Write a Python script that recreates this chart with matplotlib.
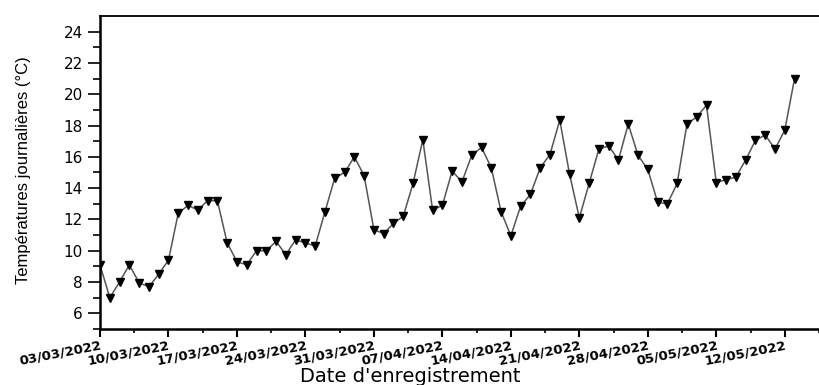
import numpy as np
import pandas as pd
import matplotlib
matplotlib.use("Agg")
import matplotlib.pyplot as plt
import matplotlib.dates as mdates

# Daily temperatures, starting 03/03/2022
temps = [9.1, 7.0, 8.0, 9.1, 7.95, 7.7, 8.5, 9.4, 12.4, 12.9,
         12.6, 13.2, 13.2, 10.5, 9.3, 9.1, 10.0, 10.0, 10.6, 9.75,
         10.7, 10.5, 10.3, 12.5, 14.65, 15.0, 16.0, 14.8, 11.35, 11.1,
         11.75, 12.2, 14.3, 17.1, 12.6, 12.9, 15.1, 14.4, 16.1, 16.6,
         15.3, 12.5, 10.95, 12.85, 13.6, 15.3, 16.15, 18.35, 14.9, 12.1,
         14.3, 16.5, 16.7, 15.8, 18.1, 16.1, 15.2, 13.1, 13.0, 14.3,
         18.1, 18.55, 19.3, 14.35, 14.55, 14.7, 15.8, 17.05, 17.4, 16.5,
         17.7, 21.0]
dates = pd.date_range("2022-03-03", periods=len(temps), freq="D")

tick_labels = ["03/03/2022", "10/03/2022", "17/03/2022", "24/03/2022",
               "31/03/2022", "07/04/2022", "14/04/2022", "21/04/2022",
               "28/04/2022", "05/05/2022", "12/05/2022"]
ticks = pd.to_datetime(tick_labels, format="%d/%m/%Y")

fig = plt.figure(figsize=(8.19, 3.85), dpi=100)
ax = fig.add_axes([0.1221, 0.1455, 0.8779, 0.8129])

ax.plot(dates, temps, color="#555555", lw=1.1, marker="v",
        markersize=6, markerfacecolor="black", markeredgecolor="black")

ax.set_ylim(5, 25)
ax.set_xlim(dates[0], dates[0] + pd.Timedelta(hours=71.15 * 24))
ax.set_yticks(np.arange(6, 25, 2))
ax.set_yticks(np.arange(5, 25, 2), minor=True)

tnum = mdates.date2num(ticks)
ax.set_xticks(tnum)
ax.set_xticks(list((tnum[:-1] + tnum[1:]) / 2) + [tnum[-1] + 3.5], minor=True)
ax.set_xticklabels(tick_labels, rotation=11, ha="right", va="top",
                   rotation_mode="anchor", fontsize=9.5, fontweight="bold",
                   family="DejaVu Sans")
for lab in ax.get_yticklabels():
    lab.set_fontsize(11)
    lab.set_family("DejaVu Sans")

ax.tick_params(axis="y", which="major", length=9, width=1.2, direction="out")
ax.tick_params(axis="y", which="minor", length=5, width=1.2, direction="out")
ax.tick_params(axis="x", which="major", length=6, width=1.5, direction="out", pad=1)
ax.tick_params(axis="x", which="minor", length=3, width=1.2, direction="out")

ax.spines["right"].set_visible(False)
ax.spines["left"].set_linewidth(1.8)
ax.spines["bottom"].set_linewidth(1.8)
ax.spines["top"].set_linewidth(1.3)

ax.set_ylabel("Températures journalières (°C)", fontsize=12,
              family=["Liberation Sans Narrow", "Liberation Sans"])
ax.yaxis.label.set_va("center")
ax.yaxis.set_label_coords(-0.107, 0.508)

ax.set_xlabel("Date d'enregistrement", fontsize=14, family="DejaVu Sans")
ax.xaxis.label.set_va("center")
ax.xaxis.set_label_coords(0.431, -0.152)

fig.savefig("out.png", dpi=100)
